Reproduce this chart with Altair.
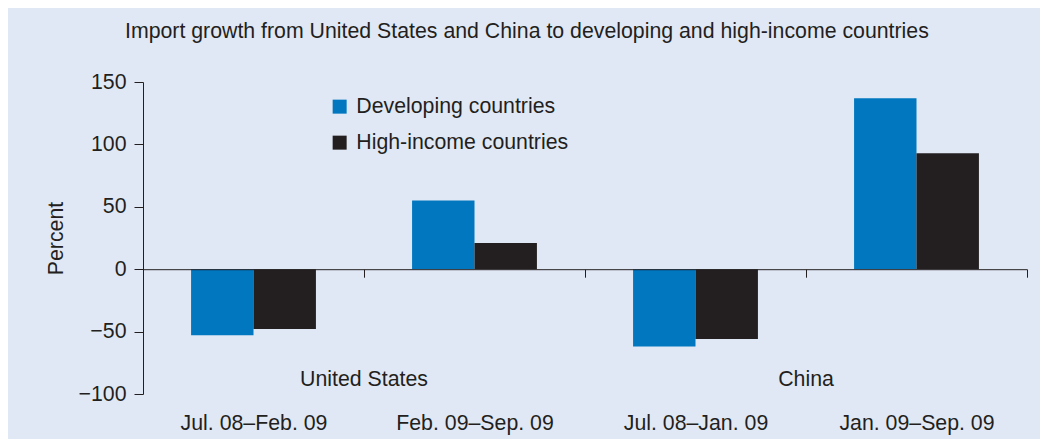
import altair as alt
import pandas as pd

periods = ["Jul. 08–Feb. 09", "Feb. 09–Sep. 09", "Jul. 08–Jan. 09", "Jan. 09–Sep. 09"]
series_names = ["Developing countries", "High-income countries"]
developing = [-53, 55, -62, 137]
high_income = [-48, 21, -56, 93]
countries = ["United States", "China"]
country_anchor = ["Feb. 09–Sep. 09", "Jan. 09–Sep. 09"]
country_label_y = [-89, -89]
y_ticks = [-100, -50, 0, 50, 100, 150]

rows = []
for p, d, h in zip(periods, developing, high_income):
    rows.append({"period": p, "series": series_names[0], "value": d})
    rows.append({"period": p, "series": series_names[1], "value": h})
df = pd.DataFrame(rows)
lab = pd.DataFrame({"period": country_anchor, "country": countries, "y": country_label_y})

FONT = "Liberation Sans"
TXT = "#231f20"
BG = "#e1e8f5"
BLUE = "#0077bf"
BLACK = "#231f20"
FS = 21.3

x_scale = alt.Scale(domain=periods, paddingInner=0, paddingOuter=0)
y_scale = alt.Scale(domain=[-100, 150], nice=False, zero=False)

x_axis = alt.Axis(title=None, labelAngle=0, offset=-124.8, tickBand="extent",
                  tickSize=8, domainColor=TXT, tickColor=TXT, labelPadding=135,
                  labelFontSize=FS, labelColor=TXT, labelFont=FONT, zindex=1,
                  domainWidth=1, tickWidth=1, labelLimit=0)
y_axis = alt.Axis(title="Percent", values=y_ticks, tickSize=9, labelPadding=8,
                  domainColor=TXT, tickColor=TXT, labelFontSize=FS, labelColor=TXT,
                  labelFont=FONT, titleFont=FONT, titleFontSize=FS, titleColor=TXT,
                  titleFontWeight="normal", titlePadding=12, grid=False, zindex=1)

bars = alt.Chart(df).mark_bar().encode(
    x=alt.X("period:N", scale=x_scale, sort=periods, axis=x_axis),
    xOffset=alt.XOffset("series:N", scale=alt.Scale(domain=series_names, paddingOuter=0.77, paddingInner=0)),
    y=alt.Y("value:Q", scale=y_scale, axis=y_axis),
    color=alt.Color("series:N", scale=alt.Scale(domain=series_names, range=[BLUE, BLACK]),
                    legend=alt.Legend(title=None, orient="none", legendX=186, legendY=14,
                                      symbolType="square", symbolSize=196, symbolStrokeWidth=0,
                                      labelFontSize=FS, labelFont=FONT, labelColor=TXT,
                                      labelOffset=6, rowPadding=14, padding=0, labelLimit=0)),
)

labels = alt.Chart(lab).mark_text(font=FONT, fontSize=FS, color=TXT, baseline="middle").encode(
    x=alt.X("period:N", bandPosition=0, scale=x_scale, sort=periods, axis=x_axis),
    y=alt.Y("y:Q", scale=y_scale, axis=y_axis),
    text="country:N",
)

chart = alt.layer(bars, labels).properties(
    width=884, height=312,
    padding={"left": 135, "top": 74, "right": 13, "bottom": 46},
    autosize=alt.AutoSizeParams(type="none"),
    background=BG,
    title=alt.TitleParams(
        text="Import growth from United States and China to developing and high-income countries",
        anchor="start", frame="group", dx=-18, offset=29, font=FONT, fontSize=FS,
        fontWeight="normal", color=TXT),
).configure_view(stroke=None)

chart.save("out.html", embed_options={"renderer": "svg", "actions": False})
